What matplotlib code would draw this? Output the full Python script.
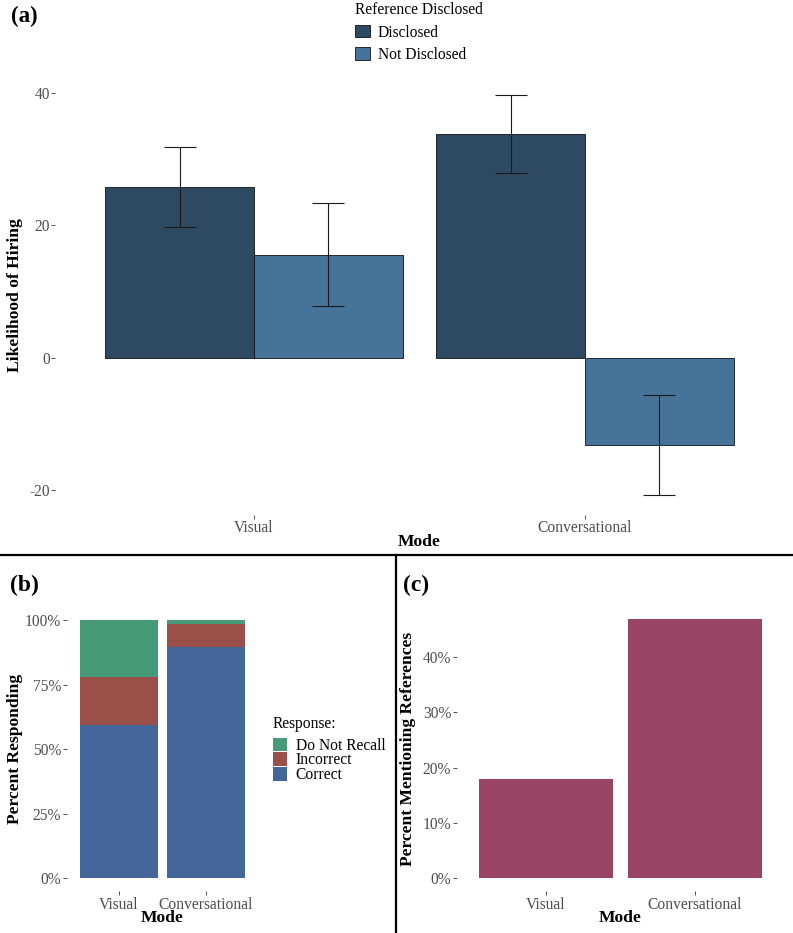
import numpy as np
import matplotlib
matplotlib.use("Agg")
import matplotlib.pyplot as plt
from matplotlib.patches import Patch
from matplotlib.lines import Line2D
from matplotlib.ticker import PercentFormatter

plt.rcParams['font.family'] = ['Liberation Serif', 'DejaVu Serif']
plt.rcParams['axes.unicode_minus'] = False

# ==============================
# DATA
# ==============================
modes = ['Visual', 'Conversational']

# (a) likelihood of hiring, mean and standard error
hire_disclosed = [25.8, 33.9]
hire_not_disclosed = [15.6, -13.3]
se_disclosed = [6.1, 5.9]
se_not_disclosed = [7.8, 7.6]

# (b) recall of reference, percent responding
recall_correct = [59.3, 89.5]
recall_incorrect = [18.5, 9.1]
recall_dnr = [22.2, 1.4]

# (c) percent mentioning references
mention_pct = [18.0, 46.8]

# ==============================
# STYLE
# ==============================
W, H = 793, 933
FS = 11.2
TITLE_FS = 12.6
TICK_COL = '#4d4d4d'
C_DISC = '#2e4a62'
C_NOTDISC = '#457399'
C_DNR = '#479a78'
C_INC = '#9a4f48'
C_COR = '#45669a'
C_MENTION = '#994465'


def fx(px):
    return px / W


def fy(py):
    return 1 - py / H


def axes_px(fig, left, right, top, bottom):
    return fig.add_axes([fx(left), fy(bottom), (right - left) / W, (bottom - top) / H])


def style_axes(ax):
    for s in ax.spines.values():
        s.set_visible(False)
    ax.tick_params(length=3, width=0.6, color='#333333', labelcolor=TICK_COL,
                   labelsize=FS, pad=1)


def place_labels(fig, ax, xlab, ylab, xlab_pos, ylab_pos):
    ax.set_xlabel(xlab, fontsize=TITLE_FS, fontweight='bold', va='center', ha='center')
    ax.set_ylabel(ylab, fontsize=TITLE_FS, fontweight='bold', va='center', ha='center')
    ax.xaxis.set_label_coords(fx(xlab_pos[0]), fy(xlab_pos[1]), transform=fig.transFigure)
    ax.yaxis.set_label_coords(fx(ylab_pos[0]), fy(ylab_pos[1]), transform=fig.transFigure)


fig = plt.figure(figsize=(W / 100, H / 100), dpi=100)

# ==============================
# (a) LIKELIHOOD OF HIRING
# ==============================
ax1 = axes_px(fig, 55.4, 783.6, 75, 514.6)
x = np.arange(len(modes))
bw = 0.45
ax1.bar(x - bw / 2, hire_disclosed, bw, color=C_DISC, edgecolor='#111111', linewidth=0.6)
ax1.bar(x + bw / 2, hire_not_disclosed, bw, color=C_NOTDISC, edgecolor='#111111', linewidth=0.6)
ax1.errorbar(x - bw / 2, hire_disclosed, yerr=se_disclosed, fmt='none', ecolor='#1a1a1a',
             elinewidth=0.8, capsize=11.5, capthick=0.8)
ax1.errorbar(x + bw / 2, hire_not_disclosed, yerr=se_not_disclosed, fmt='none', ecolor='#1a1a1a',
             elinewidth=0.8, capsize=11.5, capthick=0.8)
ax1.set_xlim(-0.6, 1.6)
ax1.set_ylim(-23.8, 42.8)
ax1.set_xticks(x)
ax1.set_xticklabels(modes)
ax1.set_yticks([-20, 0, 20, 40])
style_axes(ax1)
place_labels(fig, ax1, 'Mode', 'Likelihood of Hiring', (419.5, 542.5), (15, 294.8))

leg1 = fig.legend(handles=[Patch(facecolor=C_DISC, edgecolor='#111111', linewidth=0.6, label='Disclosed'),
                           Patch(facecolor=C_NOTDISC, edgecolor='#111111', linewidth=0.6, label='Not Disclosed')],
                  title='Reference Disclosed', loc='upper left', bbox_to_anchor=(fx(355), fy(2)),
                  frameon=False, fontsize=FS, title_fontsize=FS, borderpad=0, borderaxespad=0,
                  handlelength=0.95, handleheight=0.85, handletextpad=0.5, labelspacing=0.42,
                  alignment='left')

# ==============================
# (b) RECALL
# ==============================
ax2 = axes_px(fig, 66.6, 258, 607.1, 891.2)
ax2.bar(x, recall_correct, 0.9, color=C_COR, label='Correct')
ax2.bar(x, recall_incorrect, 0.9, bottom=recall_correct, color=C_INC, label='Incorrect')
ax2.bar(x, recall_dnr, 0.9, bottom=np.add(recall_correct, recall_incorrect), color=C_DNR,
        label='Do Not Recall')
ax2.set_xlim(-0.6, 1.6)
ax2.set_ylim(-5, 105)
ax2.set_xticks(x)
ax2.set_xticklabels(modes)
ax2.set_yticks([0, 25, 50, 75, 100])
ax2.yaxis.set_major_formatter(PercentFormatter(xmax=100, decimals=0))
style_axes(ax2)
place_labels(fig, ax2, 'Mode', 'Percent Responding', (162.3, 918.5), (15, 749))

leg2 = fig.legend(handles=[Patch(facecolor=C_DNR, label='Do Not Recall'),
                           Patch(facecolor=C_INC, label='Incorrect'),
                           Patch(facecolor=C_COR, label='Correct')],
                  title='Response:', loc='upper left', bbox_to_anchor=(fx(273), fy(716.5)),
                  frameon=False, fontsize=FS, title_fontsize=FS, borderpad=0, borderaxespad=0,
                  handlelength=0.9, handleheight=0.95, handletextpad=0.56, labelspacing=-0.08,
                  alignment='left')
leg2._legend_box.sep = 3.6

# ==============================
# (c) MENTIONING REFERENCES
# ==============================
ax3 = axes_px(fig, 456.7, 784.1, 606.1, 891.3)
ax3.bar(x, mention_pct, 0.9, color=C_MENTION)
ax3.set_xlim(-0.6, 1.6)
ax3.set_ylim(-2.34, 49.14)
ax3.set_xticks(x)
ax3.set_xticklabels(modes)
ax3.set_yticks([0, 10, 20, 30, 40])
ax3.yaxis.set_major_formatter(PercentFormatter(xmax=100, decimals=0))
style_axes(ax3)
place_labels(fig, ax3, 'Mode', 'Percent Mentioning References', (620.4, 918.5), (408, 749))

# ==============================
# PANEL TAGS AND SEPARATORS
# ==============================
fig.text(fx(11), fy(16), '(a)', fontsize=16.5, fontweight='bold', va='center', ha='left')
fig.text(fx(10), fy(585), '(b)', fontsize=17, fontweight='bold', va='center', ha='left')
fig.text(fx(403), fy(585), '(c)', fontsize=17, fontweight='bold', va='center', ha='left')

fig.add_artist(Line2D([0, 1], [fy(555), fy(555)], color='black', linewidth=1.6,
                      transform=fig.transFigure))
fig.add_artist(Line2D([fx(396), fx(396)], [fy(555), 0], color='black', linewidth=1.6,
                      transform=fig.transFigure))

fig.savefig('out.png', dpi=100)
